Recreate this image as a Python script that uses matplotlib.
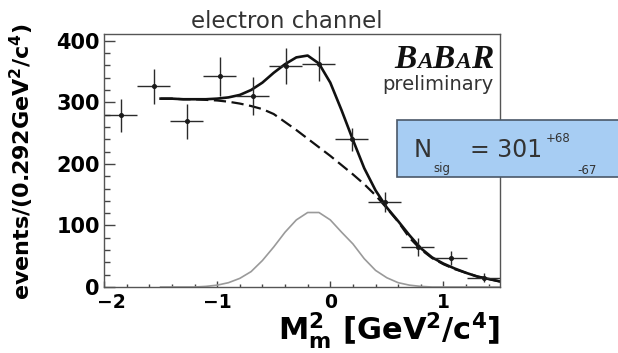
import matplotlib
matplotlib.use("Agg")
import matplotlib.pyplot as plt
from matplotlib.patches import Rectangle
from matplotlib.ticker import MultipleLocator
from matplotlib.transforms import ScaledTranslation
from matplotlib.offsetbox import TextArea, HPacker, VPacker, AnnotationBbox

plt.rcParams["font.family"] = ["DejaVu Sans"]
plt.rcParams["mathtext.fontset"] = "dejavusans"
plt.rcParams["mathtext.default"] = "bf"

# binned data, bin width 0.292 GeV^2/c^4
bin_centers = [-1.854, -1.562, -1.270, -0.978, -0.686, -0.394,
               -0.102, 0.190, 0.482, 0.774, 1.066, 1.358]
bin_half = 0.146
counts = [279, 326, 269, 342, 310, 359, 363, 240, 138, 65, 47, 15]
count_err = [27, 28, 28, 31, 31, 30, 28, 19, 16, 14, 12, 7]

# fit curves sampled every 0.1 from -1.5 to 1.5
curve_x = [-1.5, -1.4, -1.3, -1.2, -1.1, -1.0, -0.9, -0.8, -0.7, -0.6,
           -0.5, -0.4, -0.3, -0.2, -0.1, 0.0, 0.1, 0.2, 0.3, 0.4,
           0.5, 0.6, 0.7, 0.8, 0.9, 1.0, 1.1, 1.2, 1.3, 1.4, 1.5]
fit_total = [306, 306, 305, 305, 305, 306, 308, 312, 320, 332,
             348, 362, 373, 376, 363, 332, 287, 239, 193, 157,
             129, 107, 84, 63, 48, 38, 30, 23, 17, 13, 9]
fit_bkg = [306, 306, 305, 305, 304, 303, 301, 298, 294, 289,
           281, 268, 255, 241, 227, 213, 198, 183, 167, 149,
           128, 106, 80, 61, 47, 37, 29, 23, 17, 13, 9]
fit_sig = [0, 0, 0, 0, 1, 3, 7, 14, 25, 43,
           65, 89, 109, 121, 121, 109, 89, 70, 46, 27,
           15, 7, 3, 1, 0, 0, 0, 0, 0, 0, 0]

x_ticks = [-2, -1, 0, 1]
y_ticks = [0, 100, 200, 300, 400]

fig = plt.figure(figsize=(6.18, 3.53), dpi=100)
ax = fig.add_axes([104 / 618, 66 / 353, 396 / 618, 253 / 353])

ax.plot(curve_x, fit_sig, color="#9a9a9a", lw=1.2)
ax.plot(curve_x, fit_bkg, color="#111111", lw=1.6, ls=(0, (5.5, 2.5)))
ax.plot(curve_x, fit_total, color="#111111", lw=1.9)
ax.errorbar(bin_centers, counts, xerr=bin_half, yerr=count_err,
            fmt="o", ms=2.6, color="#1a1a1a", ecolor="#2a2a2a",
            elinewidth=1.0, capsize=0)

ax.set_xlim(-2.0, 1.5)
ax.set_ylim(0, 411)
ax.set_xticks(x_ticks)
ax.set_yticks(y_ticks)
ax.xaxis.set_minor_locator(MultipleLocator(0.2))
ax.yaxis.set_minor_locator(MultipleLocator(20))
ax.tick_params(axis="both", which="both", direction="in", color="#444444",
               width=1.0)
ax.tick_params(axis="y", which="major", length=8, pad=3, labelsize=15)
ax.tick_params(axis="y", which="minor", length=4.5)
ax.tick_params(axis="x", which="major", length=4, pad=4, labelsize=13.5)
ax.tick_params(axis="x", which="minor", length=2.5)
for lab in ax.get_xticklabels() + ax.get_yticklabels():
    lab.set_fontweight("bold")
for sp in ax.spines.values():
    sp.set_color("#555555")
    sp.set_linewidth(1.0)

# nudge the -2 label clear of the y-axis 0
first = ax.get_xticklabels()[0]
first.set_transform(first.get_transform()
                    + ScaledTranslation(7 / 100, 0, fig.dpi_scale_trans))

fig.text(0.464, 1 - 28 / 353, "electron channel", fontsize=16.5,
         color="#333333", ha="center", va="baseline")
fig.text(0.036, 0.541, r"events/(0.292GeV$^2$/c$^4$)", fontsize=16,
         fontweight="bold", rotation=90, ha="center", va="center")
fig.text(500 / 618, 1 - 340 / 353, r"M$_m^2$ [GeV$^2$/c$^4$]",
         fontsize=22, fontweight="bold", ha="right", va="baseline")

# experiment logo
big = dict(family="Liberation Serif", weight="bold", style="italic",
           size=24, color="#111111")
small = dict(big, size=17)
logo = HPacker(children=[TextArea("B", textprops=big),
                         TextArea("A", textprops=small),
                         TextArea("B", textprops=big),
                         TextArea("A", textprops=small),
                         TextArea("R", textprops=big)],
               align="baseline", pad=0, sep=0)
prelim = TextArea("preliminary",
                  textprops=dict(size=14, color="#333333"))
stack = VPacker(children=[logo, prelim], align="right", pad=0, sep=0)
ab = AnnotationBbox(stack, (493 / 618, 1 - 44 / 353),
                    xycoords="figure fraction", box_alignment=(1, 1),
                    frameon=False, pad=0)
fig.add_artist(ab)

# signal yield box
fig.add_artist(Rectangle((397 / 618, 1 - 177 / 353), 0.4, 57 / 353,
                         transform=fig.transFigure, facecolor="#a7cdf3",
                         edgecolor="#4a5868", lw=1.2, zorder=2))
fig.text(414 / 618, 1 - 157 / 353, "N", fontsize=17.5, color="#333333",
         va="baseline", zorder=3)
fig.text(433 / 618, 1 - 172 / 353, "sig", fontsize=8.5, color="#333333",
         va="baseline", zorder=3)
fig.text(470 / 618, 1 - 157 / 353, "= 301", fontsize=17, color="#333333",
         va="baseline", zorder=3)
fig.text(546 / 618, 1 - 138 / 353, "+68", fontsize=8.5, color="#333333",
         va="center", zorder=3)
fig.text(577 / 618, 1 - 170 / 353, "-67", fontsize=8.5, color="#333333",
         va="center", zorder=3)

fig.savefig("out.png", dpi=100)
